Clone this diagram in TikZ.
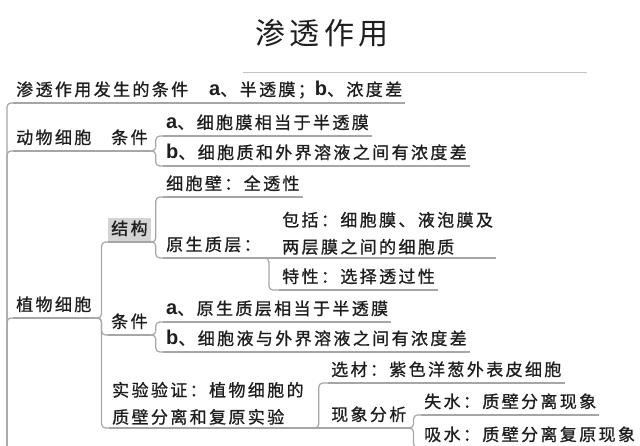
\documentclass[tikz,border=0pt]{standalone}
\usepackage{fontspec}
\newfontfamily\cjk[LetterSpace=14, FakeBold=0.9]{Noto Sans CJK SC}
\newfontfamily\titlefont[LetterSpace=14]{Noto Sans CJK SC}
\newfontfamily\abfont{Liberation Sans}
\definecolor{branchgray}{HTML}{A6A6A6}
\definecolor{rulegray}{HTML}{C4C4C4}
\definecolor{boxgray}{HTML}{D3D3D3}
\definecolor{inkblack}{HTML}{1E1E1E}
\newcommand{\abmark}[1]{{\abfont\bfseries\fontsize{20}{27}\selectfont #1}}
\tikzset{
  topic/.style={anchor=south west, inner xsep=3pt, inner ysep=3pt, text=inkblack,
    font=\cjk\fontsize{17}{27}\selectfont},
  oneline/.style={topic, text height=14pt, text depth=4pt},
  link/.style={draw=branchgray, line width=1.2pt, rounded corners=4pt},
}

\begin{document}
\begin{tikzpicture}[x=1pt, y=-1pt]
  \useasboundingbox (0,0) rectangle (640,445);

  % title and its rule
  \node[font=\titlefont\fontsize{30}{30}\selectfont, text=inkblack, anchor=base] (title) at (322,44) {渗透作用};
  \draw[rulegray, line width=1pt] (243,72) -- (587,72);

  % left spine, runs off the bottom
  \coordinate (spine) at (7,470);

  % conditions
  \node[oneline] (cond)   at (13,103)  {渗透作用发生的条件};
  \node[oneline] (condab) at (206,103) {\abmark{a}、半透膜；\abmark{b}、浓度差};

  % animal cell
  \node[oneline] (animal) at (13,151)  {动物细胞};
  \node[oneline] (acond)  at (108,151) {条件};
  \node[oneline] (acondA) at (163,136) {\abmark{a}、细胞膜相当于半透膜};
  \node[oneline] (acondB) at (163,166) {\abmark{b}、细胞质和外界溶液之间有浓度差};

  % plant cell
  \node[oneline] (plant)  at (13,318)  {植物细胞};
  \node[oneline, fill=boxgray] (struct) at (108,242) {结构};
  \node[oneline] (wall)   at (163,197) {细胞壁：全透性};
  \node[oneline] (proto)  at (163,258) {原生质层：};
  \node[topic, align=left] (incl) at (279,258) {包括：细胞膜、液泡膜及\\两层膜之间的细胞质};
  \node[oneline] (prop)   at (279,290) {特性：选择透过性};
  \node[oneline] (pcond)  at (108,335) {条件};
  \node[oneline] (pcondA) at (163,322) {\abmark{a}、原生质层相当于半透膜};
  \node[oneline] (pcondB) at (163,352) {\abmark{b}、细胞液与外界溶液之间有浓度差};

  % experiment
  \node[topic, align=left] (exp) at (109,428) {实验验证：植物细胞的\\质壁分离和复原实验};
  \node[oneline] (mat)    at (328,383) {选材：紫色洋葱外表皮细胞};
  \node[oneline] (phen)   at (328,428) {现象分析};
  \node[oneline] (loss)   at (421,415) {失水：质壁分离现象};
  \node[oneline] (gain)   at (421,448) {吸水：质壁分离复原现象};

  % underlines
  \foreach \n in {cond,condab,animal,acond,acondA,acondB,plant,struct,wall,proto,
                  incl,prop,pcond,pcondA,pcondB,exp,mat,phen,loss,gain}
    \draw[link] (\n.south west) -- (\n.south east);

  % spine to main branches
  \foreach \n in {cond,animal,plant}
    \draw[link] (spine) |- (\n.south west);

  % straight joins
  \foreach \p/\c in {cond/condab, animal/acond, proto/incl, exp/phen}
    \draw[link] (\p.south east) -- (\c.south west);

  % bracket joins
  \foreach \p/\c/\d in {acond/acondA/5, acond/acondB/5, plant/struct/7, plant/pcond/7,
                        plant/exp/7, struct/wall/5, struct/proto/5, proto/prop/5,
                        pcond/pcondA/5, pcond/pcondB/5, exp/mat/12, phen/loss/4, phen/gain/4}
    \draw[link] (\p.south east) -- ++(\d,0) |- (\c.south west);
\end{tikzpicture}
\end{document}
